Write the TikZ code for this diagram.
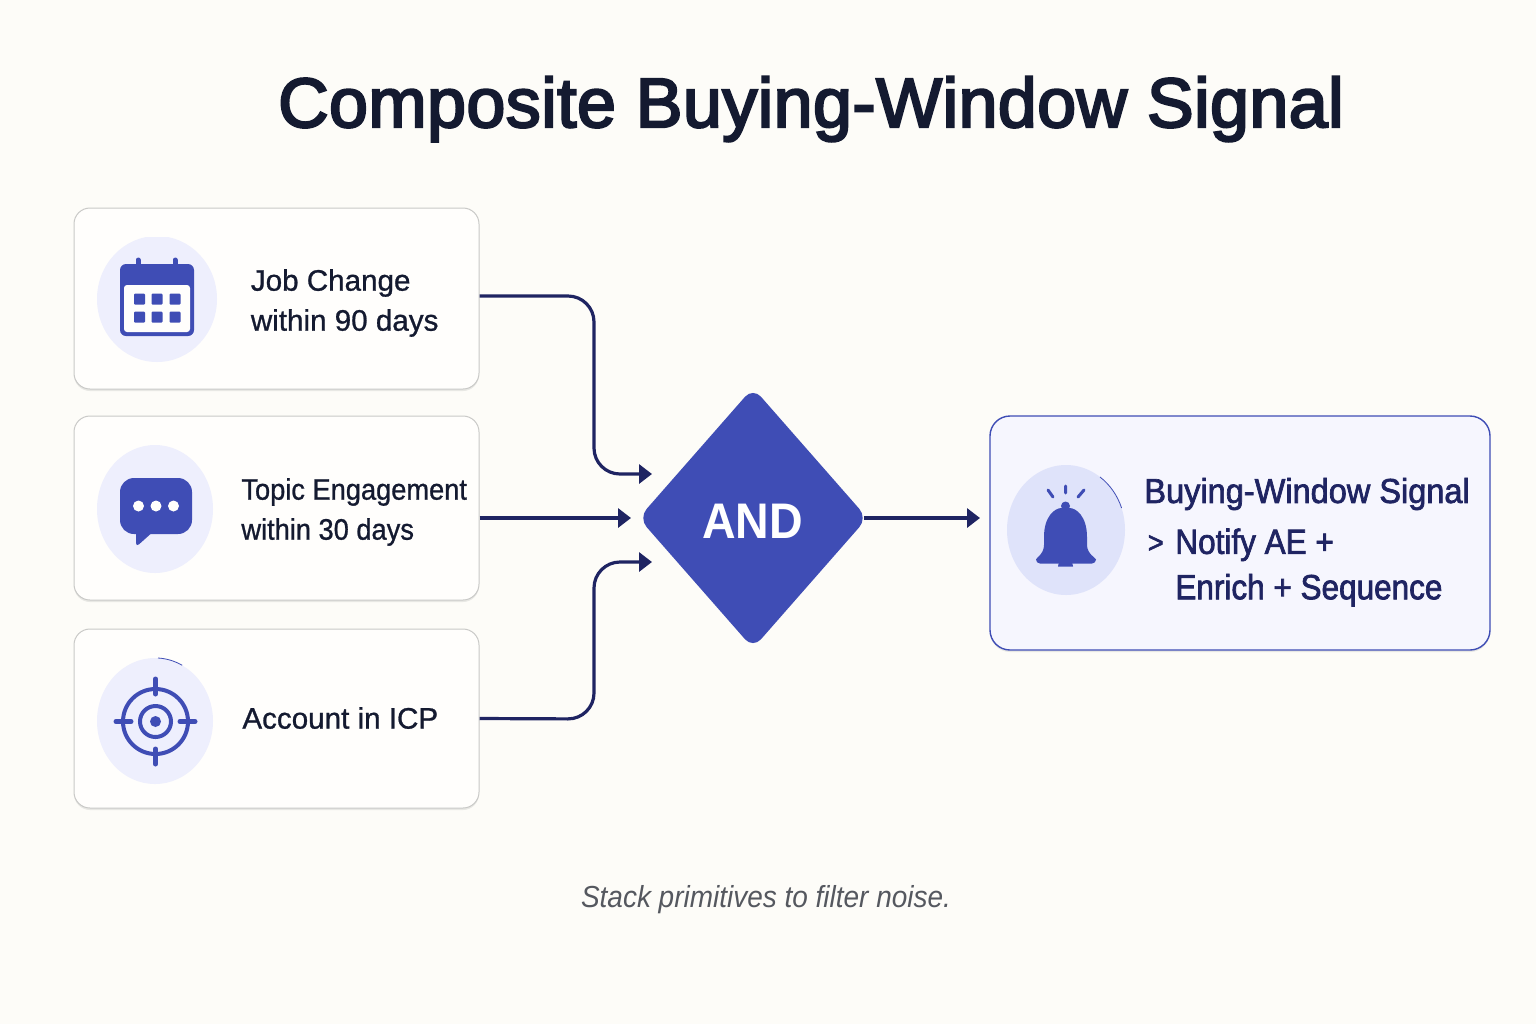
\documentclass[tikz,border=0pt]{standalone}
\usepackage{fontspec}
\setmainfont{Liberation Sans}
\newfontfamily\titlefont[FakeBold=3.2,LetterSpace=0.6]{Liberation Sans}
\newfontfamily\cardfont[FakeBold=0.9]{Liberation Sans}
\newfontfamily\topicfont[FakeBold=0.9,FakeStretch=0.92]{Liberation Sans}
\newfontfamily\resultfont[FakeBold=2,FakeStretch=0.94]{Liberation Sans}
\newfontfamily\stepsfont[FakeBold=2,FakeStretch=0.9]{Liberation Sans}
\newfontfamily\gatefont[FakeStretch=0.93]{Liberation Sans}
\newfontfamily\capfont[FakeStretch=0.92]{Liberation Sans}
\usetikzlibrary{arrows.meta,shapes.geometric,shadows}

\definecolor{pagebg}{HTML}{FDFCF8}
\definecolor{cardbg}{HTML}{FFFEFC}
\definecolor{cardline}{HTML}{C9C9C7}
\definecolor{inkdark}{HTML}{141A30}
\definecolor{navy}{HTML}{1F2462}
\definecolor{indigo}{HTML}{3F4DB5}
\definecolor{disc}{HTML}{EEEFFD}
\definecolor{discbell}{HTML}{DFE3FA}
\definecolor{resultbg}{HTML}{F6F6FE}
\definecolor{captioncol}{HTML}{55585F}

\tikzset{
  cardbox/.style={draw=cardline, line width=0.5pt, fill=cardbg, rounded corners=8pt, minimum width=202.5pt,
    drop shadow={shadow xshift=0pt, shadow yshift=-1pt, opacity=0.16}},
  cardtext/.style={anchor=west, align=left, inner sep=0pt, text=inkdark, font=\cardfont\fontsize{14.8}{20}\selectfont},
  resulttext/.style={anchor=west, align=left, inner sep=0pt, text=navy, font=\stepsfont\fontsize{17.5}{22.7}\selectfont},
  flow/.style={draw=navy, line width=1.6pt, rounded corners=13pt, -{Triangle[length=6.5pt,width=9.5pt]}},
  icon/.style={line width=1.5pt, color=indigo}
}

\begin{document}
\begin{tikzpicture}[x=0.5pt,y=-0.5pt]
  \fill [pagebg] (0,0) rectangle (1536,1024);
  \useasboundingbox (0,0) rectangle (1536,1024);

  \node (title) at (811,109) {\titlefont\fontsize{35}{40}\selectfont\color{inkdark} Composite Buying-Window Signal};

  \node [cardbox, minimum height=90.5pt] (jobcard) at (276.5,298.5) {};
  \node [cardbox, minimum height=92pt] (topiccard) at (276.5,508) {};
  \node [cardbox, minimum height=89.5pt] (icpcard) at (276.5,718.5) {};
  \node [cardbox, draw=indigo, line width=0.7pt, fill=resultbg, rounded corners=10pt, minimum width=250pt, minimum height=117pt] (resultcard) at (1240,533) {};

  \node [diamond, fill=indigo, rounded corners=6pt, inner sep=0pt, minimum width=114.5pt, minimum height=130.5pt] (gate) at (753,518) {};
  \node [text=white, inner sep=0pt, font=\gatefont\bfseries\fontsize{25}{30}\selectfont] (gatelabel) at (752.5,521) {AND};

  % free ends of the connectors
  \coordinate (jobin) at (652,474);
  \coordinate (topicin) at (631,518);
  \coordinate (icpin) at (652,562);
  \coordinate (resultin) at (980,518);

  \draw [flow] ([yshift=1.25pt]jobcard.east) -- (594,296) -- (594,474) -- (jobin);
  \draw [flow] (topiccard.east |- topicin) -- (topicin);
  \draw [flow] (icpcard.east) -- (594,719) -- (594,562) -- (icpin);
  \draw [flow, shorten <=-2pt] (gate.east) -- (resultin);

  \node [cardtext] (jobtext) at (250.5,303) {Job Change\\within 90 days};
  \node [cardtext, font=\topicfont\fontsize{14.8}{20}\selectfont] (topictext) at (241,512) {Topic Engagement\\within 30 days};
  \node [cardtext] (icptext) at (242,718) {Account in ICP};
  \node [resulttext, font=\resultfont\fontsize{17.3}{22.7}\selectfont] (resulttitle) at (1144,494) {Buying-Window Signal};
  \node [resulttext, font=\stepsfont\fontsize{15}{20}\selectfont] (resultarrow) at (1147.5,544) {>};
  \node [resulttext] (resultsteps) at (1175,567.5) {Notify AE +\\Enrich + Sequence};

  \node [text=captioncol, font=\capfont\fontsize{15.2}{20}\selectfont\itshape] (caption) at (766,900) {Stack primitives to filter noise.};

  % calendar
  \begin{scope}
    \clip (90,237) rectangle (225,365);
    \fill [disc] (157,299) ellipse (60 and 63);
  \end{scope}
  \fill [indigo, rounded corners=3pt] (120,264) rectangle (194,336);
  \fill [cardbg, rounded corners=1.5pt] (124,285) rectangle (190,332);
  \draw [icon, line width=2.5pt, line cap=round] (138,260) -- (138,266) (175,260) -- (175,266);
  \foreach \gx in {139.5,157,175} \foreach \gy in {299,317} {
    \fill [indigo, rounded corners=0.5pt] (\gx-5.5,\gy-5.5) rectangle (\gx+5.5,\gy+5.5);
  }

  % speech bubble
  \fill [disc] (155,509) ellipse (58 and 64);
  \fill [indigo, rounded corners=2pt] (136,530) -- (136,547) -- (155,530) -- cycle;
  \fill [indigo, rounded corners=7pt] (120,478) rectangle (192,534);
  \foreach \dx in {138.5,156,173.5} {
    \fill [cardbg] (\dx,506) circle (5.5);
  }

  % target
  \fill [disc] (155,721) ellipse (58 and 63);
  \draw [indigo, line width=0.4pt] (158,658) arc (-87:-62:58 and 63);
  \draw [icon, line width=2pt] (155.5,721.5) circle (32.5);
  \draw [icon, line width=2pt] (155.5,721.5) circle (15.5);
  \fill [indigo] (155.5,721.5) circle (5.5);
  \draw [icon, line width=2.5pt, line cap=round] (116,721.5) -- (131,721.5) (180,721.5) -- (195,721.5)
    (155.5,679) -- (155.5,694) (155.5,749) -- (155.5,764);

  % bell
  \fill [discbell] (1066,530) ellipse (59 and 65);
  \draw [indigo, line width=0.4pt] (1100,477) arc (-55:-20:59 and 65);
  \fill [indigo] (1065.5,506) circle (4.5);
  \fill [indigo, rounded corners=2pt] (1036,563.5) .. controls (1036,558) and (1044,554) .. (1044,541)
    .. controls (1044,516) and (1055,508) .. (1065.5,508) .. controls (1076,508) and (1087,516) .. (1087,541)
    .. controls (1087,554) and (1096,558) .. (1096,563.5) -- cycle;
  \fill [indigo] (1058,566.5) arc (180:360:7.5) -- cycle;
  \draw [icon, line cap=round] (1065.5,486) -- (1065.5,493) (1048,490) -- (1053,497) (1084,490) -- (1078,497);
\end{tikzpicture}
\end{document}
